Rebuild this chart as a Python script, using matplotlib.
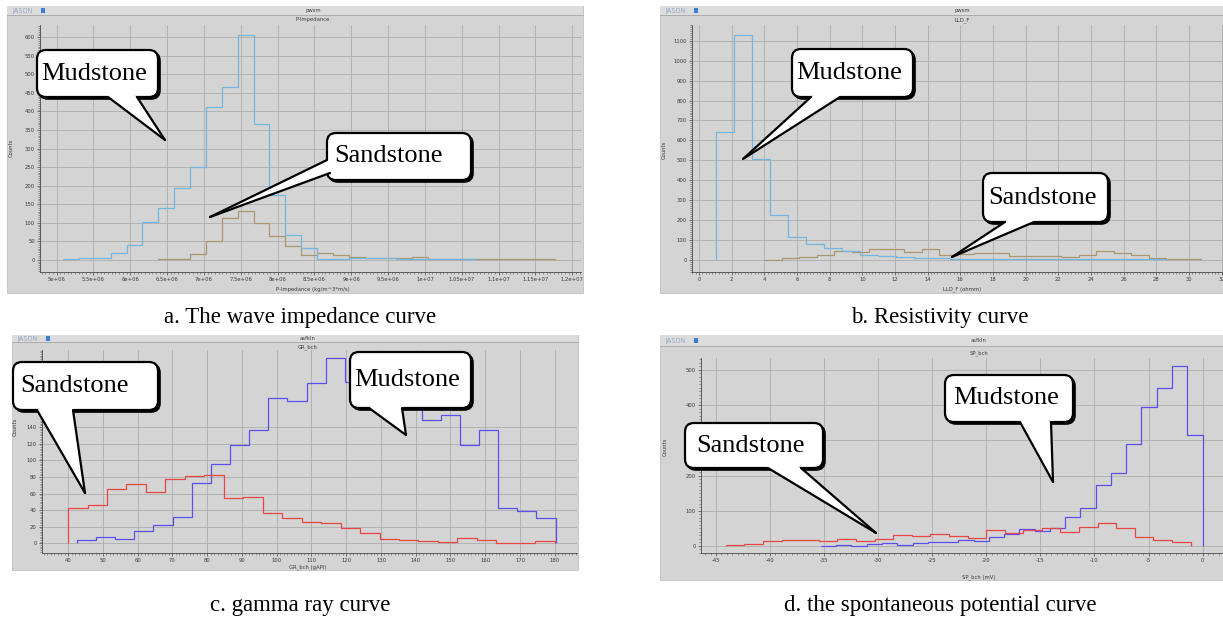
import numpy as np
import matplotlib.pyplot as plt
from matplotlib.patches import FancyBboxPatch, Rectangle, Polygon
from matplotlib.ticker import MultipleLocator, AutoMinorLocator, FormatStrFormatter

W, H = 1223, 619

# a. P-impedance histogram (counts per bin)
imp_mud_start, imp_mud_width = 5.09e6, 0.2153e6
imp_mud_counts = [1, 4, 6, 17, 41, 103, 139, 193, 250, 412, 467, 607, 366, 175,
                  68, 31, 2, 2, 6, 6, 4, 3, 2, 2, 1, 1]
imp_sand_start, imp_sand_width = 6.382e6, 0.2153e6
imp_sand_counts = [1, 1, 15, 51, 112, 131, 100, 64, 38, 14, 17, 13, 7, 5, 6, 6,
                   7, 3, 2, 2, 1, 1, 2, 1, 1]

# b. resistivity (LLD) histogram
res_mud_start, res_mud_width = 1.05, 1.1
res_mud_counts = [644, 1128, 508, 225, 112, 77, 57, 45, 22, 18, 13, 8, 6, 5, 4, 4,
                  3, 3, 2, 2, 2, 2, 2, 2, 5]
res_sand_start, res_sand_width = 4.0, 1.07
res_sand_counts = [0, 7, 15, 23, 44, 40, 52, 52, 40, 52, 23, 27, 32, 32, 17, 17,
                   17, 15, 22, 42, 33, 23, 7, 2, 2]

# c. gamma ray histogram
gr_mud_start, gr_mud_width = 42.5, 5.51
gr_mud_counts = [4, 7, 5, 15, 22, 32, 73, 95, 119, 136, 175, 172, 193, 223, 195,
                 205, 198, 180, 149, 155, 118, 136, 43, 39, 31]
gr_sand_start, gr_sand_width = 40.0, 5.6
gr_sand_counts = [43, 46, 66, 72, 62, 78, 81, 82, 54, 56, 37, 30, 26, 24, 19, 12,
                  5, 4, 3, 1, 6, 4, 0, 0, 3]

# d. spontaneous potential histogram
sp_mud_start, sp_mud_width = -35.3, 1.412
sp_mud_counts = [1, 2, 1, 5, 8, 2, 8, 10, 12, 18, 14, 25, 35, 48, 42, 50, 82, 108,
                 173, 207, 290, 395, 448, 512, 315]
sp_sand_start, sp_sand_width = -44.1, 1.72
sp_sand_counts = [2, 5, 13, 17, 18, 13, 20, 15, 20, 31, 27, 34, 28, 22, 45, 38, 45,
                  50, 41, 55, 64, 50, 25, 17, 10]

captions = ["a. The wave impedance curve", "b. Resistivity curve",
            "c. gamma ray curve", "d. the spontaneous potential curve"]

LIGHT_BLUE = "#74b6de"
TAN = "#ab9670"
VIOLET = "#5a50ec"
RED = "#ea4545"
SMALL = dict(fontsize=3.8, color="#3a3a3a", family="DejaVu Sans")

fig = plt.figure(figsize=(W / 100, H / 100), dpi=100)
fig.patch.set_facecolor("white")


def pixel_axes(z):
    ax = fig.add_axes([0, 0, 1, 1], zorder=z)
    ax.set_xlim(0, W)
    ax.set_ylim(H, 0)
    ax.axis("off")
    ax.patch.set_alpha(0)
    return ax


def rect(l, t, r, b):
    return [l / W, 1 - b / H, (r - l) / W, (b - t) / H]


bg = pixel_axes(0)
fg = pixel_axes(5)


def draw_panel(box, header_bottom, title, title_x, subtitle, sub_y, xlabel, xlabel_y, counts_xy):
    x0, y0, x1, y1 = box
    bg.add_patch(Rectangle((x0, y0), x1 - x0, y1 - y0, fc="#d4d4d4", ec="#c2c2c2", lw=0.6))
    bg.add_patch(Rectangle((x0, y0), x1 - x0, header_bottom - y0, fc="#dcdcdc", ec="none"))
    bg.plot([x0, x1], [header_bottom, header_bottom], color="#a6a6a6", lw=0.6)
    hy = (y0 + header_bottom) / 2
    bg.text(x0 + 5, hy, "JASON", fontsize=4.8, color="#5b7bb2", va="center",
            family="DejaVu Sans", fontweight="light")
    bg.add_patch(Rectangle((x0 + 34, hy - 2.5), 4, 5, fc="#3d7fd8", ec="none"))
    bg.text(title_x, hy, title, ha="center", va="center", **SMALL)
    bg.text(title_x, sub_y, subtitle, ha="center", va="center", **SMALL)
    bg.text(title_x, xlabel_y, xlabel, ha="center", va="center", **SMALL)
    bg.text(counts_xy[0], counts_xy[1], "Counts", ha="center", va="center", rotation=90, **SMALL)


def hist_axes(px, xlim, ylim, xstep, ystep, fmt):
    ax = fig.add_axes(rect(*px), zorder=2)
    ax.patch.set_alpha(0)
    ax.set_xlim(*xlim)
    ax.set_ylim(*ylim)
    for s in ("top", "right"):
        ax.spines[s].set_visible(False)
    for s in ("left", "bottom"):
        ax.spines[s].set_color("#4a4a4a")
        ax.spines[s].set_linewidth(0.6)
    ax.xaxis.set_major_locator(MultipleLocator(xstep))
    ax.yaxis.set_major_locator(MultipleLocator(ystep))
    ax.xaxis.set_minor_locator(AutoMinorLocator(10))
    ax.yaxis.set_minor_locator(AutoMinorLocator(10))
    ax.xaxis.set_major_formatter(FormatStrFormatter(fmt))
    ax.tick_params(which="major", length=2.2, width=0.5, colors="#444444",
                   labelsize=3.8, pad=1.5, labelcolor="#3a3a3a")
    ax.tick_params(which="minor", length=1.1, width=0.4, colors="#555555")
    ax.grid(True, which="major", color="#a9a9a9", lw=0.55)
    ax.set_axisbelow(True)
    return ax


def stairs(ax, start, width, counts, color):
    edges = start + width * np.arange(len(counts) + 1)
    ax.stairs(counts, edges, baseline=0, color=color, lw=0.9)


def callout(box, base, tip, label, dx=-3):
    x0, y0, x1, y1 = box
    style = "round,pad=0,rounding_size=9"
    fg.add_patch(FancyBboxPatch((x0 + 2, y0 + 2), x1 - x0, y1 - y0, boxstyle=style,
                                fc="black", ec="black", lw=1.2, zorder=3))
    fg.add_patch(FancyBboxPatch((x0, y0), x1 - x0, y1 - y0, boxstyle=style,
                                fc="white", ec="black", lw=1.6, zorder=4))
    cx, cy = (x0 + x1) / 2, (y0 + y1) / 2
    # white wedge reaching a little inside the box hides the border at the tail root
    (bx0, by0), (bx1, by1) = base
    ix0 = (bx0 + (cx - bx0) * 0.12, by0 + (cy - by0) * 0.12)
    ix1 = (bx1 + (cx - bx1) * 0.12, by1 + (cy - by1) * 0.12)
    fg.add_patch(Polygon([tip, (bx0, by0), ix0, ix1, (bx1, by1)], closed=True,
                         fc="white", ec="none", zorder=5))
    for px, py in base:
        fg.plot([px, tip[0]], [py, tip[1]], color="black", lw=1.6, zorder=6,
                solid_capstyle="round")
    fg.text(cx + dx, cy, label, ha="center", va="center", fontsize=19,
            family="Liberation Serif", zorder=7)


# a. wave impedance
draw_panel((7, 6, 583, 293), 15, "pwsm", 313, "P-Impedance", 20,
           "P-Impedance (kg/m^3*m/s)", 289, (11.5, 148))
ax = hist_axes((40, 25, 581, 272), (4.776e6, 1.2118e7), (-33, 633), 0.5e6, 50, "%g")
stairs(ax, imp_sand_start, imp_sand_width, imp_sand_counts, TAN)
stairs(ax, imp_mud_start, imp_mud_width, imp_mud_counts, LIGHT_BLUE)

# b. resistivity
draw_panel((660, 6, 1223, 293), 15, "pwsm", 962, "LLD_F", 20,
           "LLD_F (ohmm)", 289, (664, 150))
ax = hist_axes((692, 25, 1223, 272), (-0.43, 32.09), (-62, 1180), 2, 100, "%g")
stairs(ax, res_sand_start, res_sand_width, res_sand_counts, TAN)
stairs(ax, res_mud_start, res_mud_width, res_mud_counts, LIGHT_BLUE)

# c. gamma ray
draw_panel((12, 335, 578, 570), 342, "asfkln", 308, "GR_bch", 347,
           "GR_bch (gAPI)", 567, (15, 427))
ax = hist_axes((42, 350, 577, 553), (32.5, 186.4), (-11.7, 233), 10, 20, "%g")
stairs(ax, gr_mud_start, gr_mud_width, gr_mud_counts, VIOLET)
stairs(ax, gr_sand_start, gr_sand_width, gr_sand_counts, RED)
# upper count labels sit under the Sandstone callout
ax.set_yticks(np.arange(0, 160, 20))

# d. spontaneous potential
draw_panel((660, 335, 1223, 580), 346, "asfkln", 979, "SP_bch", 353,
           "SP_bch (mV)", 577, (665.5, 447))
ax = hist_axes((701, 358, 1223, 553), (-46.39, 1.89), (-20, 534), 5, 100, "%g")
stairs(ax, sp_mud_start, sp_mud_width, sp_mud_counts, VIOLET)
stairs(ax, sp_sand_start, sp_sand_width, sp_sand_counts, RED)

# callouts
callout((37, 50, 158, 97), [(108, 97), (137, 97)], (165, 140), "Mudstone")
callout((327, 133, 471, 180), [(327, 160), (330, 173)], (210, 217), "Sandstone", dx=-10)
callout((792, 49, 913, 97), [(811, 97), (840, 97)], (743, 159), "Mudstone")
callout((983, 173, 1108, 222), [(1005, 222), (1034, 222)], (952, 257), "Sandstone")
callout((13, 362, 158, 410), [(37, 410), (73, 410)], (85, 493), "Sandstone", dx=-11)
callout((350, 352, 471, 408), [(369, 408), (402, 408)], (406, 435), "Mudstone")
callout((945, 375, 1073, 422), [(1020, 422), (1051, 422)], (1053, 482), "Mudstone")
callout((685, 423, 823, 468), [(768, 468), (801, 468)], (876, 533), "Sandstone")

# captions under each panel
for text, (cx, cy) in zip(captions, [(300, 318), (940, 318), (300, 605), (940, 605)]):
    fg.text(cx, cy, text, ha="center", va="center", fontsize=16.5, family="Liberation Serif")

fig.savefig("out.png", dpi=100, facecolor="white")
